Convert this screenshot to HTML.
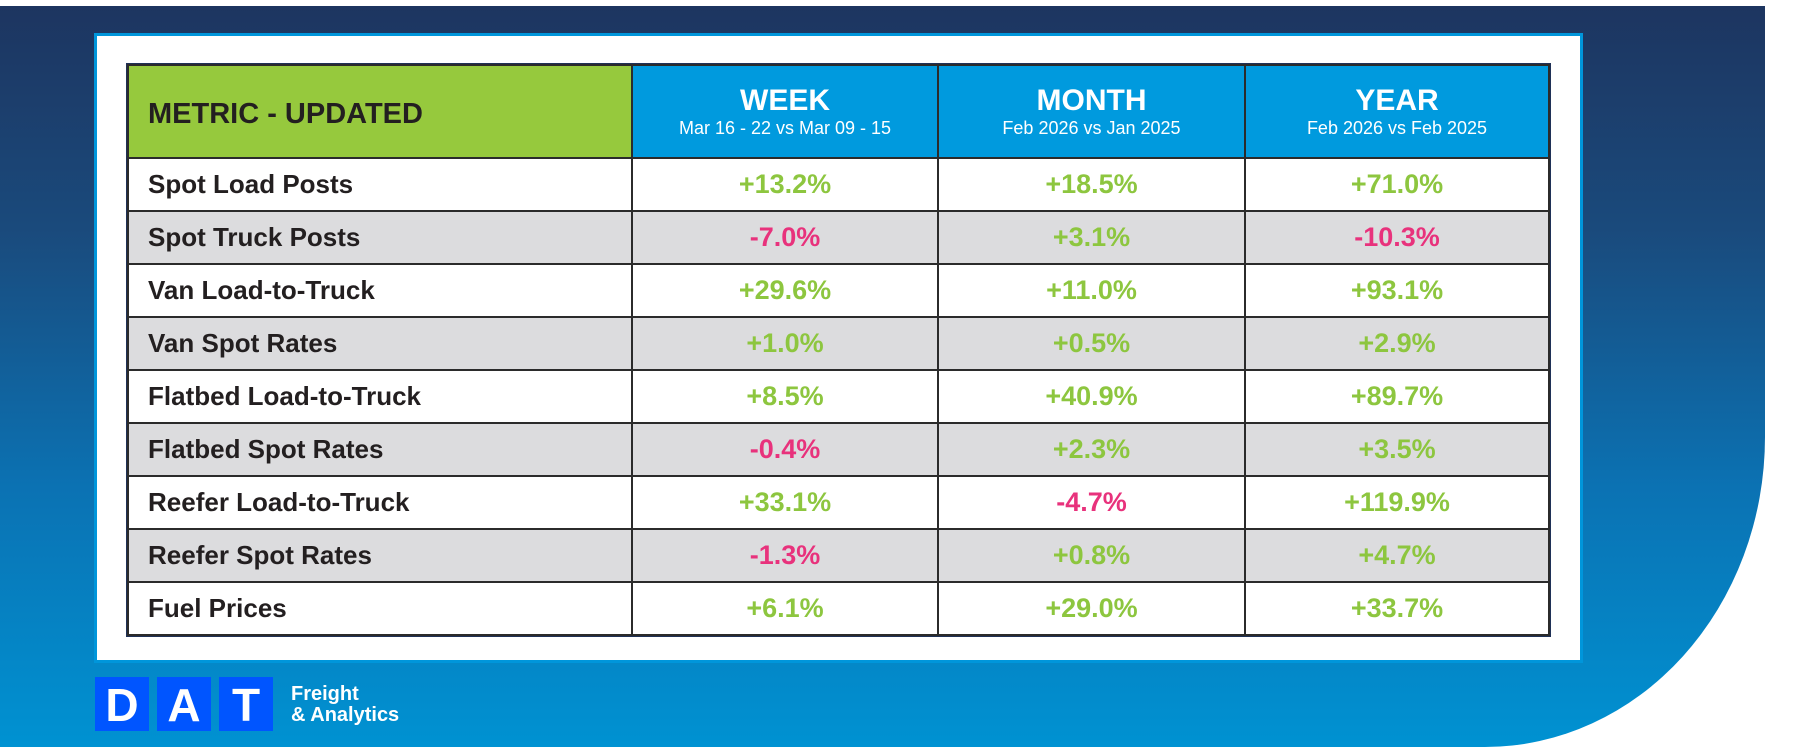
<!DOCTYPE html>
<html><head><meta charset="utf-8"><style>
*{margin:0;padding:0;box-sizing:border-box}
body{width:1800px;height:756px;background:#fff;position:relative;overflow:hidden;font-family:"Liberation Sans",sans-serif}
.bg{position:absolute;left:0;top:6px;width:1765px;height:741px;background:linear-gradient(180deg,#1d3560 0%,#1a4a7c 30%,#0b72b3 65%,#0092d2 100%);border-bottom-right-radius:280px 310px}
.panel{position:absolute;left:94px;top:33px;width:1489px;height:630px;background:#fff;border:3px solid #0096db}
table{position:absolute;left:127px;top:64px;width:1421px;border-collapse:collapse;table-layout:fixed}
td,th{border:2px solid #2b2b2b;height:53px;font-weight:bold;font-size:27px;text-align:center}
th{height:93px;color:#fff;background:#009ade;font-weight:normal}
th b{display:block;font-size:30px;line-height:32px}
th span{display:block;font-size:18px;line-height:22px}
th.m{background:#96c93d;color:#231f20;text-align:left;padding-left:19px;font-weight:bold;font-size:29px;padding-top:6px}
td:first-child{text-align:left;padding-left:19px;color:#231f20;font-size:26px}
tr:nth-child(odd) td{background:#dcdcde}
.g{color:#8dc63f}.p{color:#e8327c}
table{outline:1px solid #1f3157}
.sq{position:absolute;top:677px;width:54px;height:54px;background:#0055ff;color:#fff;font-weight:bold;font-size:46px;text-align:center;line-height:56px}
.ft{position:absolute;left:291px;color:#fff;font-weight:bold;font-size:20px;line-height:20px}
</style></head><body>
<div class="bg"></div>
<div class="panel"></div>
<table>
<colgroup><col style="width:504px"><col style="width:306px"><col style="width:307px"><col style="width:304px"></colgroup>
<tr><th class="m">METRIC - UPDATED</th><th><b>WEEK</b><span>Mar 16 - 22 vs Mar 09 - 15</span></th><th><b>MONTH</b><span>Feb 2026 vs Jan 2025</span></th><th><b>YEAR</b><span>Feb 2026 vs Feb 2025</span></th></tr>
<tr><td>Spot Load Posts</td><td class="g">+13.2%</td><td class="g">+18.5%</td><td class="g">+71.0%</td></tr>
<tr><td>Spot Truck Posts</td><td class="p">-7.0%</td><td class="g">+3.1%</td><td class="p">-10.3%</td></tr>
<tr><td>Van Load-to-Truck</td><td class="g">+29.6%</td><td class="g">+11.0%</td><td class="g">+93.1%</td></tr>
<tr><td>Van Spot Rates</td><td class="g">+1.0%</td><td class="g">+0.5%</td><td class="g">+2.9%</td></tr>
<tr><td>Flatbed Load-to-Truck</td><td class="g">+8.5%</td><td class="g">+40.9%</td><td class="g">+89.7%</td></tr>
<tr><td>Flatbed Spot Rates</td><td class="p">-0.4%</td><td class="g">+2.3%</td><td class="g">+3.5%</td></tr>
<tr><td>Reefer Load-to-Truck</td><td class="g">+33.1%</td><td class="p">-4.7%</td><td class="g">+119.9%</td></tr>
<tr><td>Reefer Spot Rates</td><td class="p">-1.3%</td><td class="g">+0.8%</td><td class="g">+4.7%</td></tr>
<tr><td>Fuel Prices</td><td class="g">+6.1%</td><td class="g">+29.0%</td><td class="g">+33.7%</td></tr>
</table>
<div class="sq" style="left:95px">D</div>
<div class="sq" style="left:157px">A</div>
<div class="sq" style="left:219px">T</div>
<div class="ft" style="top:684px">Freight</div>
<div class="ft" style="top:705px">&amp; Analytics</div>
</body></html>
